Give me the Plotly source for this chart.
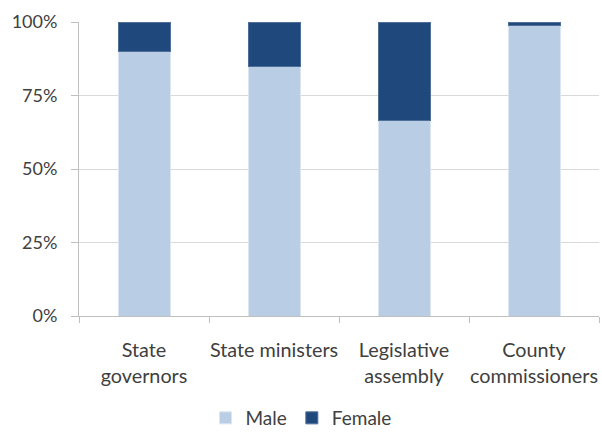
import plotly.graph_objects as go

categories = ["State<br>governors", "State ministers", "Legislative<br>assembly", "County<br>commissioners"]
male_pct = [90.0, 85.0, 66.4, 98.7]
female_pct = [10.0, 15.0, 33.6, 1.3]
y_ticks = [0, 25, 50, 75, 100]
y_tick_labels = ["0%", "25%", "50%", "75%", "100%"]

font_family = "Lato, 'Open Sans', sans-serif"
text_color = "#404040"

fig = go.Figure()
fig.add_trace(go.Bar(name="Male", x=categories, y=male_pct,
                     marker=dict(color="#B9CDE5", line=dict(color="#DCE6F2", width=1))))
fig.add_trace(go.Bar(name="Female", x=categories, y=female_pct,
                     marker=dict(color="#1F497D", line=dict(color="#4F6F99", width=1))))

fig.update_layout(
    barmode="stack",
    bargap=0.6,
    width=602, height=432,
    margin=dict(l=79, r=3, t=22, b=116, autoexpand=False),
    paper_bgcolor="white", plot_bgcolor="white",
    font=dict(family=font_family, size=18, color=text_color),
    showlegend=True,
    legend=dict(orientation="h", x=0.5, xref="container", xanchor="center",
                y=-0.347, yref="paper", yanchor="middle", font=dict(size=19),
                traceorder="normal", itemwidth=30),
)
fig.update_xaxes(
    type="category",
    showline=True, linecolor="#BFBFBF", linewidth=1,
    ticks="outside", tickson="boundaries", ticklen=6, tickcolor="#BFBFBF",
    tickfont=dict(size=19.8), ticklabelstandoff=16, tickangle=0,
    showgrid=False,
)
fig.update_yaxes(
    range=[0, 100],
    tickvals=y_ticks, ticktext=y_tick_labels,
    showline=True, linecolor="#BFBFBF", linewidth=1,
    ticks="outside", ticklen=7, tickcolor="#BFBFBF",
    ticklabelstandoff=10,
    showgrid=True, gridcolor="#D9D9D9", gridwidth=1,
    zeroline=False,
)

fig.write_html("out.html")
